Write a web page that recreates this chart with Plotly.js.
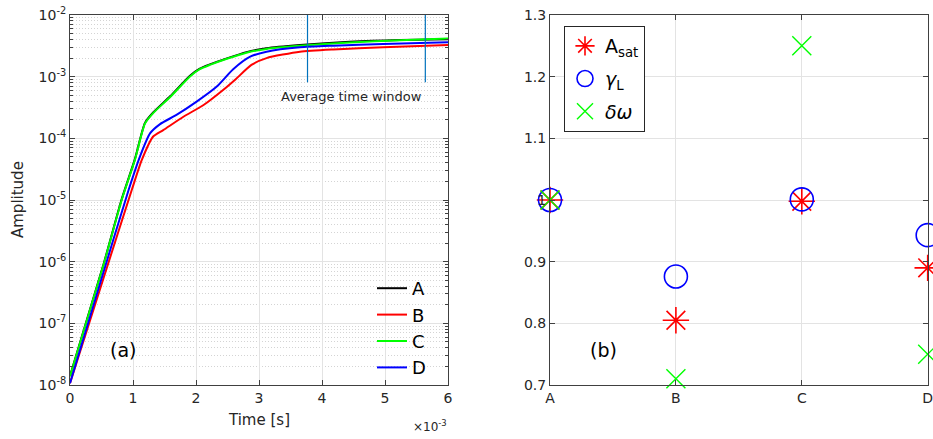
<!DOCTYPE html>
<html>
<head>
<meta charset="utf-8">
<script src="https://cdn.plot.ly/plotly-3.0.1.min.js"></script>
<style>
  html, body { margin: 0; padding: 0; background: #fff; }
  #chart { width: 933px; height: 439px; }
</style>
</head>
<body>
<div id="chart"></div>
<script>
// ---- (a) amplitude growth, time in units of 1e-3 s ----
const timeAC = [0, 0.53, 0.82, 1.03, 1.19, 1.32, 1.59, 1.9, 2.06, 2.22, 2.49, 2.8, 3.12, 3.65, 4.44, 5.24, 6.0];
const ampA = [1.40e-8, 8.9e-7, 1.03e-5, 4.6e-5, 1.78e-4, 2.62e-4, 4.8e-4, 1.03e-3, 1.35e-3, 1.58e-3, 1.98e-3, 2.50e-3, 2.90e-3, 3.27e-3, 3.70e-3, 3.95e-3, 4.05e-3];
const ampC = [1.38e-8, 8.7e-7, 1.0e-5, 4.47e-5, 1.74e-4, 2.57e-4, 4.68e-4, 1.0e-3, 1.32e-3, 1.55e-3, 1.95e-3, 2.45e-3, 2.82e-3, 3.16e-3, 3.59e-3, 3.89e-3, 4.17e-3];

const timeB = [0, 0.5, 0.98, 1.14, 1.32, 1.48, 1.8, 2.12, 2.43, 2.63, 2.88, 3.12, 3.65, 4.18, 4.97, 6.0];
const ampB = [1.07e-8, 4.27e-7, 1.45e-5, 4.47e-5, 1.07e-4, 1.36e-4, 2.24e-4, 3.47e-4, 6.08e-4, 9.1e-4, 1.55e-3, 2.0e-3, 2.54e-3, 2.77e-3, 2.99e-3, 3.27e-3];

const timeD = [0, 0.5, 0.93, 1.11, 1.27, 1.43, 1.69, 2.01, 2.33, 2.59, 2.86, 3.12, 3.65, 4.18, 4.97, 6.0];
const ampD = [1.07e-8, 5.3e-7, 1.45e-5, 5.05e-5, 1.2e-4, 1.7e-4, 2.4e-4, 3.94e-4, 6.92e-4, 1.32e-3, 2.11e-3, 2.54e-3, 2.99e-3, 3.18e-3, 3.39e-3, 3.61e-3];

// averaging window edges (1e-3 s) and the amplitude span of the markers
const windowEdges = [3.77, 5.64];
const windowSpan = [8.1e-4, 1e-2];

const logTickVals = [1e-8, 1e-7, 1e-6, 1e-5, 1e-4, 1e-3, 1e-2];
const logTickText = ['10<sup>-8</sup>', '10<sup>-7</sup>', '10<sup>-6</sup>', '10<sup>-5</sup>', '10<sup>-4</sup>', '10<sup>-3</sup>', '10<sup>-2</sup>'];
const timeTicks = [0, 1, 2, 3, 4, 5, 6];

// ---- (b) normalised saturation parameters per case ----
const cases = ['A', 'B', 'C', 'D'];
const aSat = [1.0, 0.805, 0.998, 0.89];
const gammaL = [1.0, 0.876, 1.001, 0.943];
const deltaOmega = [1.0, 0.71, 1.25, 0.75];
const ratioTicks = [0.7, 0.8, 0.9, 1.0, 1.1, 1.2, 1.3];
const ratioTickText = ['0.7', '0.8', '0.9', '1', '1.1', '1.2', '1.3'];

// minor log grid values (2..9 per decade)
const minorLog = [];
for (let e = -8; e < -2; e++) {
  for (let m = 2; m <= 9; m++) minorLog.push(m * Math.pow(10, e));
}

const FONT = 'DejaVu Sans, sans-serif';
const INK = '#262626';
const AX = '#404040';

const curve = (x, y, name, color) => ({
  x, y, name, type: 'scatter', mode: 'lines',
  line: { color, width: 2, shape: 'spline', smoothing: 0.6 },
  xaxis: 'x', yaxis: 'y', legend: 'legend'
});

const traces = [
  curve(timeAC, ampA, 'A', '#000000'),
  curve(timeB, ampB, 'B', '#ff0000'),
  curve(timeAC, ampC, 'C', '#00ff00'),
  curve(timeD, ampD, 'D', '#0000ff')
];

windowEdges.forEach(t => {
  traces.push({
    x: [t, t], y: windowSpan, type: 'scatter', mode: 'lines',
    line: { color: '#0072BD', width: 1.2 }, showlegend: false,
    hoverinfo: 'skip', xaxis: 'x', yaxis: 'y'
  });
});

traces.push(
  {
    x: cases, y: aSat, name: 'A<sub>sat</sub>', type: 'scatter', mode: 'markers',
    marker: { symbol: 'asterisk-open', size: 22, color: '#ff0000', line: { width: 1.6, color: '#ff0000' } },
    xaxis: 'x2', yaxis: 'y2', legend: 'legend2', legendgroup: 'g1', cliponaxis: false
  },
  {
    x: cases, y: gammaL, name: '<i>γ</i><sub>L</sub>', type: 'scatter', mode: 'markers',
    marker: { symbol: 'circle-open', size: 23, color: '#0000ff', line: { width: 1.6, color: '#0000ff' } },
    xaxis: 'x2', yaxis: 'y2', legend: 'legend2', legendgroup: 'g2', cliponaxis: false
  },
  {
    x: cases, y: deltaOmega, name: '<i>δω</i>', type: 'scatter', mode: 'markers',
    marker: { symbol: 'x-thin-open', size: 19, color: '#00ff00', line: { width: 1.4, color: '#00ff00' } },
    xaxis: 'x2', yaxis: 'y2', legend: 'legend2', legendgroup: 'g3', cliponaxis: false
  }
);

const W = 933, H = 439;
const px = v => v / W;
const py = v => (H - v) / H;

const axisBase = {
  showline: true, linecolor: AX, linewidth: 1, mirror: 'allticks',
  ticks: 'inside', ticklen: 5, tickcolor: AX,
  tickfont: { family: FONT, size: 14, color: INK },
  gridcolor: '#e3e3e3', gridwidth: 1, zeroline: false, fixedrange: true
};

const note = (text, x, y, size, extra) => Object.assign({
  text, x: px(x), y: py(y), xref: 'paper', yref: 'paper',
  xanchor: 'center', yanchor: 'middle', showarrow: false,
  font: { family: FONT, size, color: INK }
}, extra || {});

const layout = {
  width: W, height: H,
  margin: { l: 0, r: 0, t: 0, b: 0 },
  paper_bgcolor: '#ffffff', plot_bgcolor: '#ffffff',
  font: { family: FONT, color: INK },
  xaxis: Object.assign({}, axisBase, {
    domain: [px(70), px(448)], anchor: 'y',
    range: [0, 6], tickvals: timeTicks, ticktext: timeTicks.map(String)
  }),
  yaxis: Object.assign({}, axisBase, {
    domain: [py(385), py(15)], anchor: 'x',
    type: 'log', range: [-8, -2], tickvals: logTickVals, ticktext: logTickText,
    minor: { tickmode: 'array', tickvals: minorLog, ticks: 'inside', ticklen: 3, tickcolor: AX,
             showgrid: true, gridcolor: '#d4d4d4', griddash: '1px,2px', gridwidth: 1 }
  }),
  xaxis2: Object.assign({}, axisBase, {
    domain: [px(550), px(927.7)], anchor: 'y2',
    type: 'category', range: [0, 3], categoryorder: 'array', categoryarray: cases
  }),
  yaxis2: Object.assign({}, axisBase, {
    domain: [py(385), py(15)], anchor: 'x2',
    range: [0.7, 1.3], tickvals: ratioTicks, ticktext: ratioTickText
  }),
  legend: {
    x: px(372), y: py(270), xanchor: 'left', yanchor: 'top',
    bgcolor: 'rgba(0,0,0,0)', borderwidth: 0,
    font: { family: FONT, size: 18, color: '#000' },
    tracegroupgap: 0
  },
  legend2: {
    x: px(564), y: py(26), xanchor: 'left', yanchor: 'top',
    bgcolor: '#ffffff', bordercolor: INK, borderwidth: 1,
    font: { family: FONT, size: 19, color: '#000' },
    tracegroupgap: 5
  },
  annotations: [
    note('Amplitude', 18, 200, 15, { textangle: -90 }),
    note('Time [s]', 259, 420, 15),
    note('×10<sup>-3</sup>', 449, 426, 12, { xanchor: 'right' }),
    note('Average time window', 351.5, 96, 13),
    note('(a)', 123, 350, 19, { font: { family: FONT, size: 19, color: '#000' } }),
    note('(b)', 603, 350, 19, { font: { family: FONT, size: 19, color: '#000' } })
  ]
};

Plotly.newPlot('chart', traces, layout, { displayModeBar: false, staticPlot: true });
</script>
</body>
</html>
